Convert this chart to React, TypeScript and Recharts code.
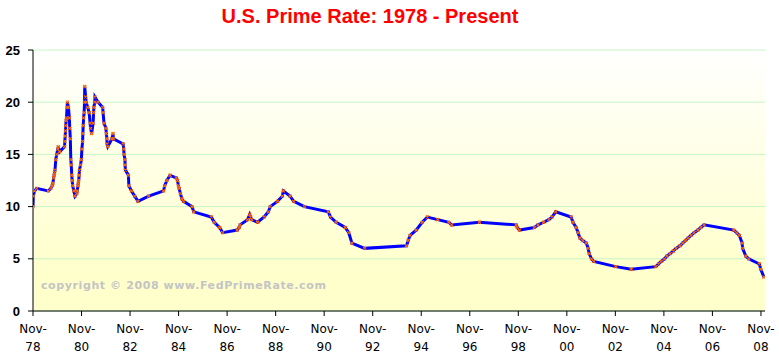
import React from "react";
import {
  CartesianGrid,
  Customized,
  Line,
  LineChart,
  XAxis,
  YAxis,
} from "recharts";

// prime rate change dates and the rate set on each date
const changeDates = [
  "1978-11-01", "1978-11-06", "1978-11-24", "1978-12-26",
  "1979-06-19", "1979-07-27", "1979-08-16", "1979-08-28", "1979-09-07", "1979-09-14",
  "1979-09-21", "1979-09-28", "1979-10-09", "1979-10-23", "1979-11-09", "1979-11-16",
  "1979-12-07", "1980-02-19", "1980-02-22", "1980-02-29", "1980-03-04", "1980-03-07",
  "1980-03-14", "1980-03-19", "1980-03-28", "1980-04-02", "1980-04-18", "1980-05-01",
  "1980-05-07", "1980-05-16", "1980-05-23", "1980-05-30", "1980-06-06", "1980-06-13",
  "1980-06-20", "1980-07-07", "1980-07-25", "1980-08-22", "1980-08-27", "1980-09-08",
  "1980-09-12", "1980-09-19", "1980-09-26", "1980-10-01", "1980-10-17", "1980-10-29",
  "1980-11-06", "1980-11-17", "1980-11-21", "1980-11-26", "1980-12-02", "1980-12-10",
  "1980-12-16", "1980-12-19", "1981-01-02", "1981-01-09", "1981-02-03", "1981-02-23",
  "1981-03-10", "1981-03-17", "1981-04-02", "1981-04-24", "1981-05-01", "1981-05-05",
  "1981-05-19", "1981-05-22", "1981-07-08", "1981-09-15", "1981-09-21", "1981-10-05",
  "1981-11-03", "1981-11-09", "1981-11-17", "1981-11-20", "1981-12-01", "1982-02-02",
  "1982-02-18", "1982-02-23", "1982-07-20", "1982-07-29", "1982-08-02", "1982-08-16",
  "1982-08-18", "1982-08-23", "1982-10-07", "1982-10-14", "1982-11-22", "1983-01-11",
  "1983-02-28", "1983-08-08", "1984-03-19", "1984-04-05", "1984-05-08", "1984-06-25",
  "1984-09-27", "1984-10-16", "1984-10-29", "1984-11-09", "1984-11-28", "1984-12-20",
  "1985-01-15", "1985-05-20", "1985-06-18", "1986-03-07", "1986-04-21", "1986-07-11",
  "1986-08-26", "1987-04-01", "1987-05-01", "1987-05-15", "1987-09-04", "1987-10-07",
  "1987-10-22", "1987-11-05", "1988-02-02", "1988-05-11", "1988-07-14", "1988-08-11",
  "1988-11-28", "1989-02-10", "1989-02-24", "1989-06-05", "1989-07-31", "1990-01-08",
  "1991-01-02", "1991-02-04", "1991-05-01", "1991-09-13", "1991-11-06", "1991-12-23",
  "1992-07-02", "1994-03-24", "1994-04-19", "1994-05-17", "1994-08-16", "1994-11-15",
  "1995-02-01", "1995-07-07", "1995-12-20", "1996-02-01", "1997-03-26", "1998-09-30",
  "1998-10-16", "1998-11-18", "1999-07-01", "1999-08-25", "1999-11-17", "2000-02-03",
  "2000-03-22", "2000-05-17", "2001-01-04", "2001-02-01", "2001-03-21", "2001-04-19",
  "2001-05-16", "2001-06-28", "2001-08-22", "2001-09-18", "2001-10-03", "2001-11-07",
  "2001-12-12", "2002-11-07", "2003-06-27", "2004-07-01", "2004-08-11", "2004-09-22",
  "2004-11-11", "2004-12-15", "2005-02-03", "2005-03-22", "2005-05-04", "2005-07-01",
  "2005-08-10", "2005-09-21", "2005-11-02", "2005-12-14", "2006-01-31", "2006-03-28",
  "2006-05-10", "2006-06-29", "2007-09-18", "2007-10-31", "2007-12-11", "2008-01-22",
  "2008-01-30", "2008-03-18", "2008-04-30", "2008-10-08", "2008-10-29", "2008-12-16",
];

const primeRates = [
  10.0, 11.0, 11.5, 11.75,
  11.5, 11.75, 12.0, 12.25, 12.75, 13.0,
  13.25, 13.5, 14.5, 15.0, 15.5, 15.75,
  15.25, 15.75, 16.25, 16.75, 17.25, 17.75,
  18.25, 18.5, 19.5, 20.0, 19.5, 18.5,
  17.5, 16.5, 14.5, 14.0, 13.0, 12.5,
  12.0, 11.5, 11.0, 11.25, 11.5, 12.0,
  12.25, 12.5, 13.0, 13.5, 14.0, 14.5,
  15.5, 16.25, 17.0, 17.75, 18.5, 19.0,
  20.0, 21.5, 20.5, 20.0, 19.5, 19.0,
  18.0, 17.5, 17.0, 18.0, 19.0, 19.5,
  20.0, 20.5, 20.0, 19.5, 19.0, 18.0,
  17.5, 17.0, 16.5, 16.0, 15.75, 16.5,
  17.0, 16.5, 16.0, 15.5, 15.0, 14.5,
  14.0, 13.5, 13.0, 12.0, 11.5, 11.0,
  10.5, 11.0, 11.5, 12.0, 12.5, 13.0,
  12.75, 12.5, 12.0, 11.75, 11.25, 10.75,
  10.5, 10.0, 9.5, 9.0, 8.5, 8.0,
  7.5, 7.75, 8.0, 8.25, 8.75, 9.25,
  9.0, 8.75, 8.5, 9.0, 9.5, 10.0,
  10.5, 11.0, 11.5, 11.0, 10.5, 10.0,
  9.5, 9.0, 8.5, 8.0, 7.5, 6.5,
  6.0, 6.25, 6.75, 7.25, 7.75, 8.5,
  9.0, 8.75, 8.5, 8.25, 8.5, 8.25,
  8.0, 7.75, 8.0, 8.25, 8.5, 8.75,
  9.0, 9.5, 9.0, 8.5, 8.0, 7.5,
  7.0, 6.75, 6.5, 6.0, 5.5, 5.0,
  4.75, 4.25, 4.0, 4.25, 4.5, 4.75,
  5.0, 5.25, 5.5, 5.75, 6.0, 6.25,
  6.5, 6.75, 7.0, 7.25, 7.5, 7.75,
  8.0, 8.25, 7.75, 7.5, 7.25, 6.5,
  6.0, 5.25, 5.0, 4.5, 4.0, 3.25,
];

const xTickDates = [
  "1978-11-01", "1980-11-01", "1982-11-01", "1984-11-01", "1986-11-01", "1988-11-01",
  "1990-11-01", "1992-11-01", "1994-11-01", "1996-11-01", "1998-11-01", "2000-11-01",
  "2002-11-01", "2004-11-01", "2006-11-01", "2008-11-01",
];
const xTickLabels = [
  "Nov-78", "Nov-80", "Nov-82", "Nov-84", "Nov-86", "Nov-88", "Nov-90", "Nov-92",
  "Nov-94", "Nov-96", "Nov-98", "Nov-00", "Nov-02", "Nov-04", "Nov-06", "Nov-08",
];
const yTicks = [0, 5, 10, 15, 20, 25];

const toYear = (d: string) => {
  const [y, m, day] = d.split("-").map(Number);
  const start = Date.UTC(y, 0, 1);
  const end = Date.UTC(y + 1, 0, 1);
  return y + (Date.UTC(y, m - 1, day) - start) / (end - start);
};

const data = changeDates.map((d, i) => ({ t: toYear(d), rate: primeRates[i] }));
const xTicks = xTickDates.map(toYear);

const XTick = (props: any) => {
  const { x, y, payload } = props;
  const idx = xTicks.findIndex((t) => Math.abs(t - payload.value) < 0.01);
  const label = xTickLabels[idx] ?? "";
  const [mon, yr] = label.split("-");
  return (
    <g transform={`translate(${x},${y})`}>
      <text
        textAnchor="middle"
        fill="#000"
        fontSize={12}
        fontFamily="'DejaVu Sans', Verdana, sans-serif"
      >
        <tspan x={0} dy={17}>{mon}-</tspan>
        <tspan x={0} dy={18}>{yr}</tspan>
      </text>
    </g>
  );
};

const XMarker = (props: any) => {
  const { cx, cy, index } = props;
  if (cx == null || cy == null) return <g key={index} />;
  return (
    <path
      key={index}
      d={`M${cx - 1.5},${cy - 1.5}L${cx + 1.5},${cy + 1.5}M${cx - 1.5},${cy + 1.5}L${cx + 1.5},${cy - 1.5}`}
      stroke="#ff6600"
      strokeWidth={1.2}
      fill="none"
    />
  );
};

const Texts = () => (
  <g>
    <text
      x={370}
      y={23}
      textAnchor="middle"
      fill="#ff0000"
      fontSize={20}
      fontWeight="bold"
      fontFamily="'Liberation Sans', Arial, sans-serif"
    >
      U.S. Prime Rate: 1978 - Present
    </text>
    <text
      x={41}
      y={289}
      fill="#c4c4c4"
      fontSize={11}
      fontWeight="bold"
      letterSpacing={0.6}
      fontFamily="'DejaVu Sans', Verdana, sans-serif"
    >
      copyright © 2008 www.FedPrimeRate.com
    </text>
  </g>
);

export default function App() {
  return (
    <div
      style={{
        position: "absolute",
        left: 0,
        top: 0,
        width: 779,
        height: 357,
        background: "#ffffff",
      }}
    >
      <LineChart
        width={779}
        height={357}
        data={data}
        margin={{ top: 50, right: 14, bottom: 0, left: 0 }}
      >
        <defs>
          <linearGradient id="plotBg" x1="0" y1="0" x2="0" y2="1">
            <stop offset="0%" stopColor="#ffffff" />
            <stop offset="85%" stopColor="#ffffcc" />
            <stop offset="100%" stopColor="#ffffcc" />
          </linearGradient>
        </defs>
        <CartesianGrid
          vertical={false}
          stroke="#c6f7c6"
          strokeWidth={1}
          fill="url(#plotBg)"
          fillOpacity={1}
        />
        <Customized component={Texts} />
        <XAxis
          dataKey="t"
          type="number"
          domain={[xTicks[0], 2009.0]}
          ticks={xTicks}
          interval={0}
          allowDataOverflow
          height={46}
          tickSize={5}
          tickMargin={0}
          tickLine={{ stroke: "#000" }}
          axisLine={{ stroke: "#000" }}
          tick={<XTick />}
        />
        <YAxis
          type="number"
          domain={[0, 25]}
          ticks={yTicks}
          interval={0}
          width={33}
          tickSize={5}
          tickMargin={8}
          tickLine={{ stroke: "#000" }}
          axisLine={{ stroke: "#000" }}
          tick={{
            fill: "#000",
            fontSize: 13,
            fontWeight: "bold",
            fontFamily: "'Liberation Sans', Arial, sans-serif",
          }}
        />
        <Line
          type="linear"
          dataKey="rate"
          stroke="#0000ff"
          strokeWidth={3}
          dot={XMarker}
          activeDot={false}
          isAnimationActive={false}
        />
      </LineChart>
    </div>
  );
}
